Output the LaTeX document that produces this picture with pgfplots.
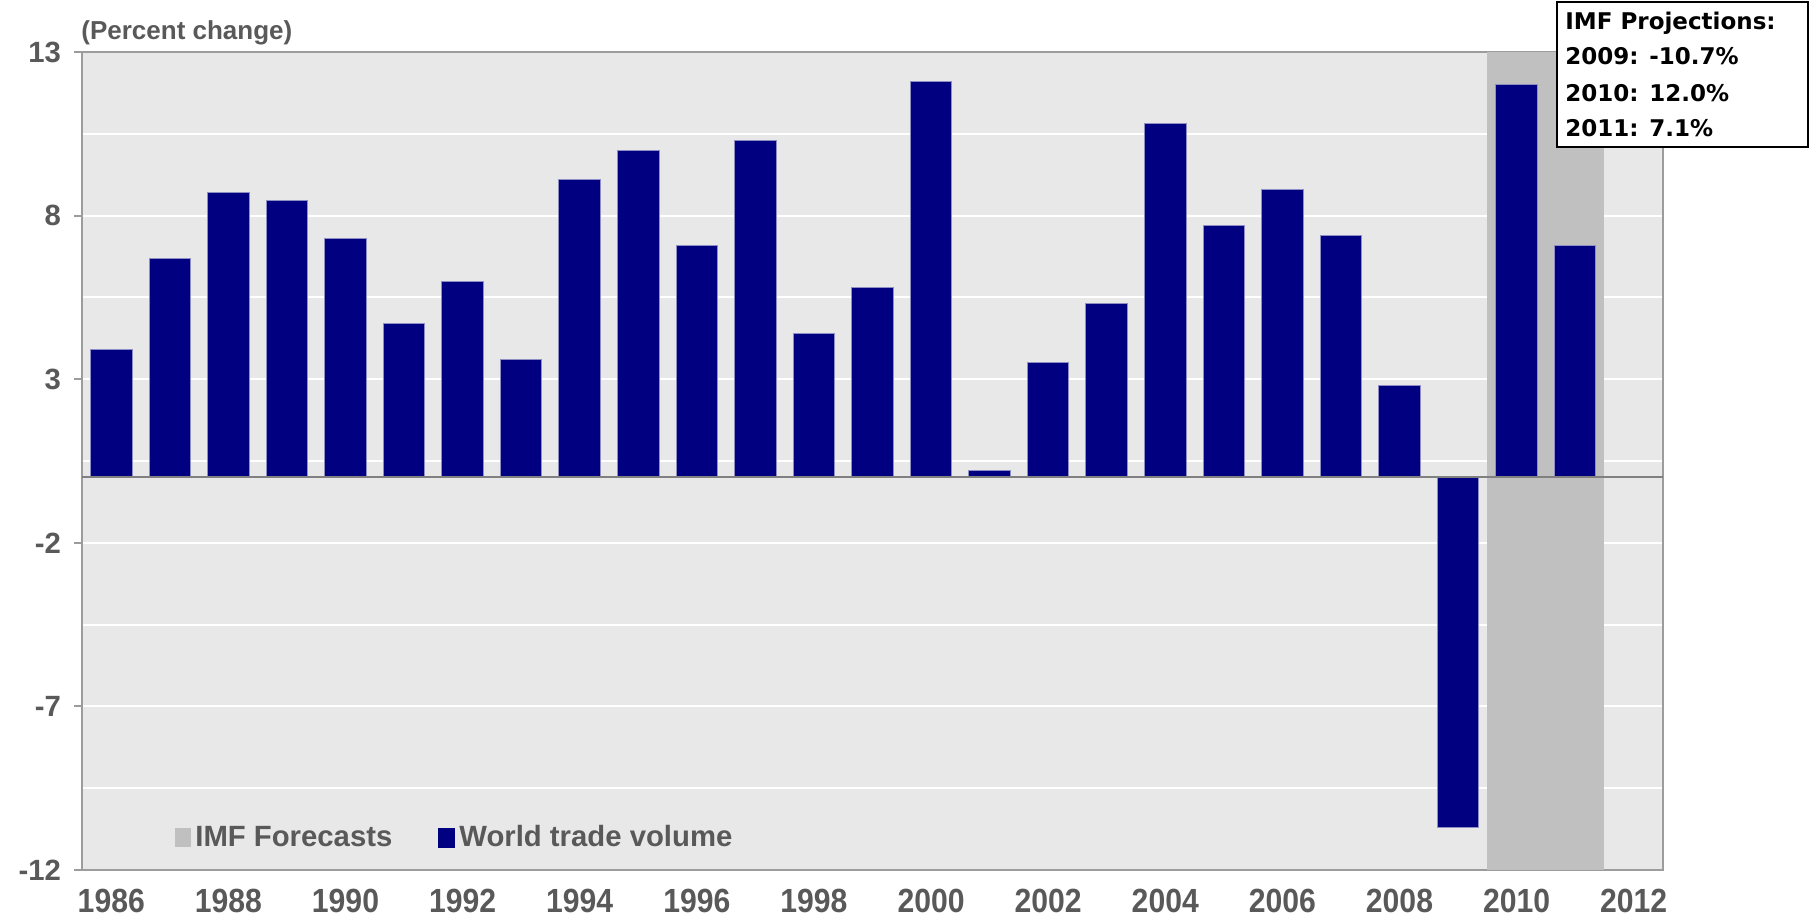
\documentclass[border=0pt]{standalone}
\usepackage{pgfplots}
\pgfplotsset{compat=1.18}
\usepackage{fontspec}
\setmainfont{Liberation Sans}
\newfontfamily\narrowfont{Liberation Sans}[FakeStretch=0.9]
\newfontfamily\boxfont{DejaVu Sans}

\definecolor{navybar}{HTML}{000080}
\definecolor{baredge}{HTML}{8E8EC4}
\definecolor{plotbg}{HTML}{E8E8E8}
\definecolor{fcgray}{HTML}{C0C0C0}
\definecolor{txtgray}{HTML}{595959}
\definecolor{axgray}{HTML}{9C9C9C}
\definecolor{zerogray}{HTML}{808080}

\begin{document}
\begin{tikzpicture}
\begin{axis}[
  name=ax,
  scale only axis,
  width=790.5pt, height=409pt,
  xmin=1985.5, xmax=2012.5,
  ymin=-12, ymax=13,
  axis background/.style={fill=plotbg},
  axis line style={axgray, line width=1pt},
  tick align=outside,
  xtick pos=bottom, ytick pos=left,
  xtick={1986,1988,...,2012},
  xtick style={draw=none},
  minor xtick={1985.5,1986.5,...,2012.5},
  minor tick length=5pt,
  minor x tick style={axgray, line width=1pt},
  ytick={-12,-7,-2,3,8,13},
  minor ytick={-9.5,-4.5,0.5,5.5,10.5},
  minor y tick style={draw=none},
  ytick style={axgray, line width=1pt},
  major tick length=4pt,
  ymajorgrids, yminorgrids,
  major grid style={white, line width=1pt},
  minor grid style={white, line width=1pt},
  /pgf/number format/assume math mode=true,
  xticklabel={\pgfmathprintnumber[1000 sep={}]{\tick}},
  xticklabel style={font=\narrowfont\bfseries\fontsize{16.75}{18}\selectfont, text=txtgray, yshift=-2pt},
  yticklabel style={font=\bfseries\fontsize{14.65}{16}\selectfont, text=txtgray, xshift=-3pt},
  legend style={at={(0.0588,0.0397)}, anchor=west, draw=none, fill=none,
    inner sep=0pt, legend columns=-1,
    font=\bfseries\fontsize{14.65}{16}\selectfont, text=txtgray,
    /tikz/every even column/.append style={column sep=21pt}},
  legend cell align=left,
]
\addplot[fill=fcgray, draw=none,
  legend image code/.code={\fill[fcgray] (0pt,-4.75pt) rectangle (8pt,4.75pt);}]
  coordinates {(2009.5,-12) (2011.5,-12) (2011.5,13) (2009.5,13)};
\addlegendentry{IMF Forecasts}

\addplot[ybar, bar width=0.71, fill=navybar, draw=baredge, line width=0.5pt,
  legend image code/.code={\fill[navybar] (0pt,-4.75pt) rectangle (8pt,4.75pt);}]
  coordinates {
    (1986,3.9) (1987,6.7) (1988,8.7) (1989,8.45) (1990,7.3)
    (1991,4.7) (1992,6.0) (1993,3.6) (1994,9.1) (1995,10.0)
    (1996,7.1) (1997,10.3) (1998,4.4) (1999,5.8) (2000,12.1)
    (2001,0.2) (2002,3.5) (2003,5.3) (2004,10.8) (2005,7.7)
    (2006,8.8) (2007,7.4) (2008,2.8) (2009,-10.7) (2010,12.0)
    (2011,7.1)
  };
\addlegendentry{World trade volume}

\addplot[zerogray, line width=1pt, forget plot] coordinates {(1985.5,0) (2012.5,0)};
\end{axis}

\node[anchor=base west, inner sep=0pt, text=txtgray,
  font=\bfseries\fontsize{13}{15}\selectfont]
  at ([shift={(-0.5pt,6pt)}]ax.north west) {(Percent change)};

\draw[line width=1pt, fill=white]
  ([shift={(737.5pt,361.5pt)}]ax.south west) rectangle ([shift={(863pt,434pt)}]ax.south west);
\begin{scope}[every node/.style={anchor=base west, inner sep=0pt,
    font=\boxfont\bfseries\fontsize{11.5}{13}\selectfont}]
  \node at ([shift={(741.5pt,420pt)}]ax.south west) {IMF Projections:};
  \node at ([shift={(741.5pt,402.5pt)}]ax.south west) {2009: -10.7\%};
  \node at ([shift={(741.5pt,384pt)}]ax.south west) {2010: 12.0\%};
  \node at ([shift={(741.5pt,366.5pt)}]ax.south west) {2011: 7.1\%};
\end{scope}

\pgfresetboundingbox
\path[use as bounding box] ([shift={(-41pt,-24.5pt)}]ax.south west)
  rectangle ([shift={(864pt,435pt)}]ax.south west);
\end{tikzpicture}
\end{document}
